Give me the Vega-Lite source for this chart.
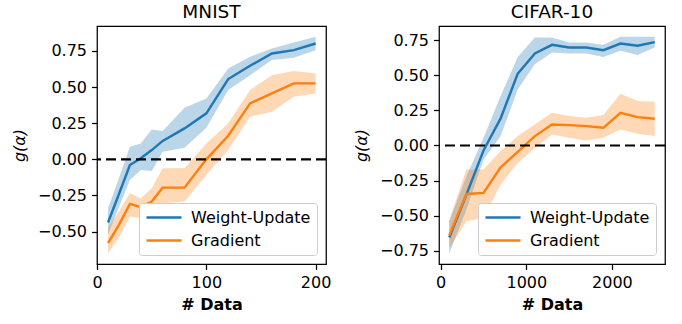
{
  "$schema": "https://vega.github.io/schema/vega-lite/v6.json",
  "padding": {"left": 10, "top": 1, "right": 5, "bottom": 5},
  "config": {
    "font": "DejaVu Sans",
    "view": {"stroke": "black", "strokeWidth": 1.25},
    "axis": {"grid": false, "domain": false, "tickColor": "black", "tickSize": 5.5, "tickWidth": 1.25, "tickCount": 20, "labelFontSize": 16, "labelColor": "black", "labelPadding": 5, "labelFlush": false, "labelOverlap": false, "titleFontSize": 16, "titleColor": "black"},
    "axisX": {"titleFontWeight": "bold", "titlePadding": 6},
    "axisY": {"titleFontWeight": "normal", "titleFontStyle": "italic", "titlePadding": 10},
    "title": {"fontSize": 18.5, "fontWeight": "normal", "color": "black", "offset": 5, "anchor": "middle"},
    "legend": {"orient": "none", "title": null, "symbolType": "M-1,0H4", "symbolSize": 196, "symbolStrokeWidth": 2.4, "labelFontSize": 16, "labelColor": "black", "labelOffset": 29, "rowPadding": 6, "padding": 6, "fillColor": "white", "strokeColor": "#cccccc", "cornerRadius": 3}
  },
  "data": {"values": [
    {"d": "MNIST", "method": "Weight-Update", "n": 10, "mean": -0.437, "lo": -0.52, "hi": -0.34},
    {"d": "MNIST", "method": "Weight-Update", "n": 20, "mean": -0.24, "lo": -0.33, "hi": -0.13},
    {"d": "MNIST", "method": "Weight-Update", "n": 30, "mean": -0.039, "lo": -0.143, "hi": 0.087},
    {"d": "MNIST", "method": "Weight-Update", "n": 40, "mean": 0.007, "lo": -0.074, "hi": 0.11},
    {"d": "MNIST", "method": "Weight-Update", "n": 50, "mean": 0.064, "lo": -0.08, "hi": 0.207},
    {"d": "MNIST", "method": "Weight-Update", "n": 60, "mean": 0.127, "lo": 0.053, "hi": 0.196},
    {"d": "MNIST", "method": "Weight-Update", "n": 80, "mean": 0.214, "lo": 0.08, "hi": 0.357},
    {"d": "MNIST", "method": "Weight-Update", "n": 100, "mean": 0.318, "lo": 0.219, "hi": 0.421},
    {"d": "MNIST", "method": "Weight-Update", "n": 120, "mean": 0.555, "lo": 0.479, "hi": 0.628},
    {"d": "MNIST", "method": "Weight-Update", "n": 140, "mean": 0.647, "lo": 0.582, "hi": 0.709},
    {"d": "MNIST", "method": "Weight-Update", "n": 160, "mean": 0.732, "lo": 0.686, "hi": 0.767},
    {"d": "MNIST", "method": "Weight-Update", "n": 180, "mean": 0.755, "lo": 0.702, "hi": 0.808},
    {"d": "MNIST", "method": "Weight-Update", "n": 200, "mean": 0.801, "lo": 0.755, "hi": 0.847},
    {"d": "MNIST", "method": "Gradient", "n": 10, "mean": -0.58, "lo": -0.649, "hi": -0.477},
    {"d": "MNIST", "method": "Gradient", "n": 20, "mean": -0.453, "lo": -0.54, "hi": -0.36},
    {"d": "MNIST", "method": "Gradient", "n": 30, "mean": -0.308, "lo": -0.396, "hi": -0.235},
    {"d": "MNIST", "method": "Gradient", "n": 40, "mean": -0.331, "lo": -0.407, "hi": -0.27},
    {"d": "MNIST", "method": "Gradient", "n": 50, "mean": -0.292, "lo": -0.373, "hi": -0.2},
    {"d": "MNIST", "method": "Gradient", "n": 60, "mean": -0.196, "lo": -0.304, "hi": -0.062},
    {"d": "MNIST", "method": "Gradient", "n": 80, "mean": -0.196, "lo": -0.292, "hi": -0.062},
    {"d": "MNIST", "method": "Gradient", "n": 100, "mean": 0.0, "lo": -0.108, "hi": 0.11},
    {"d": "MNIST", "method": "Gradient", "n": 120, "mean": 0.163, "lo": 0.064, "hi": 0.249},
    {"d": "MNIST", "method": "Gradient", "n": 140, "mean": 0.387, "lo": 0.295, "hi": 0.479},
    {"d": "MNIST", "method": "Gradient", "n": 160, "mean": 0.456, "lo": 0.329, "hi": 0.582},
    {"d": "MNIST", "method": "Gradient", "n": 180, "mean": 0.525, "lo": 0.433, "hi": 0.61},
    {"d": "MNIST", "method": "Gradient", "n": 200, "mean": 0.525, "lo": 0.456, "hi": 0.594},
    {"d": "CIFAR-10", "method": "Weight-Update", "n": 100, "mean": -0.655, "lo": -0.767, "hi": -0.54},
    {"d": "CIFAR-10", "method": "Weight-Update", "n": 300, "mean": -0.35, "lo": -0.457, "hi": -0.219},
    {"d": "CIFAR-10", "method": "Weight-Update", "n": 500, "mean": -0.036, "lo": -0.1, "hi": 0.055},
    {"d": "CIFAR-10", "method": "Weight-Update", "n": 700, "mean": 0.193, "lo": 0.067, "hi": 0.352},
    {"d": "CIFAR-10", "method": "Weight-Update", "n": 900, "mean": 0.512, "lo": 0.4, "hi": 0.631},
    {"d": "CIFAR-10", "method": "Weight-Update", "n": 1100, "mean": 0.655, "lo": 0.579, "hi": 0.769},
    {"d": "CIFAR-10", "method": "Weight-Update", "n": 1300, "mean": 0.717, "lo": 0.662, "hi": 0.769},
    {"d": "CIFAR-10", "method": "Weight-Update", "n": 1500, "mean": 0.698, "lo": 0.655, "hi": 0.733},
    {"d": "CIFAR-10", "method": "Weight-Update", "n": 1700, "mean": 0.698, "lo": 0.655, "hi": 0.733},
    {"d": "CIFAR-10", "method": "Weight-Update", "n": 1900, "mean": 0.679, "lo": 0.631, "hi": 0.717},
    {"d": "CIFAR-10", "method": "Weight-Update", "n": 2100, "mean": 0.726, "lo": 0.674, "hi": 0.774},
    {"d": "CIFAR-10", "method": "Weight-Update", "n": 2300, "mean": 0.71, "lo": 0.645, "hi": 0.774},
    {"d": "CIFAR-10", "method": "Weight-Update", "n": 2500, "mean": 0.736, "lo": 0.698, "hi": 0.774},
    {"d": "CIFAR-10", "method": "Gradient", "n": 100, "mean": -0.64, "lo": -0.731, "hi": -0.529},
    {"d": "CIFAR-10", "method": "Gradient", "n": 300, "mean": -0.345, "lo": -0.54, "hi": -0.171},
    {"d": "CIFAR-10", "method": "Gradient", "n": 500, "mean": -0.338, "lo": -0.517, "hi": -0.171},
    {"d": "CIFAR-10", "method": "Gradient", "n": 700, "mean": -0.155, "lo": -0.279, "hi": -0.04},
    {"d": "CIFAR-10", "method": "Gradient", "n": 900, "mean": -0.045, "lo": -0.124, "hi": 0.067},
    {"d": "CIFAR-10", "method": "Gradient", "n": 1100, "mean": 0.067, "lo": -0.017, "hi": 0.15},
    {"d": "CIFAR-10", "method": "Gradient", "n": 1300, "mean": 0.15, "lo": 0.079, "hi": 0.233},
    {"d": "CIFAR-10", "method": "Gradient", "n": 1500, "mean": 0.145, "lo": 0.055, "hi": 0.21},
    {"d": "CIFAR-10", "method": "Gradient", "n": 1700, "mean": 0.138, "lo": 0.036, "hi": 0.198},
    {"d": "CIFAR-10", "method": "Gradient", "n": 1900, "mean": 0.126, "lo": 0.055, "hi": 0.217},
    {"d": "CIFAR-10", "method": "Gradient", "n": 2100, "mean": 0.233, "lo": 0.114, "hi": 0.369},
    {"d": "CIFAR-10", "method": "Gradient", "n": 2300, "mean": 0.202, "lo": 0.083, "hi": 0.317},
    {"d": "CIFAR-10", "method": "Gradient", "n": 2500, "mean": 0.19, "lo": 0.067, "hi": 0.312}
  ]},
  "spacing": 20,
  "resolve": {"scale": {"color": "independent"}, "legend": {"color": "independent"}},
  "hconcat": [
    {
      "title": "MNIST",
      "width": 229,
      "height": 238,
      "transform": [{"filter": "datum.d == 'MNIST'"}],
      "layer": [
        {
          "transform": [{"filter": "datum.method == 'Weight-Update'"}],
          "mark": {"type": "area", "opacity": 0.3, "color": "#1f77b4"},
          "encoding": {
            "x": {"field": "n", "type": "quantitative", "scale": {"domain": [-0.1, 209.5], "nice": false, "zero": false}, "axis": {"values": [0, 100, 200], "format": "d", "title": "# Data"}},
            "y": {"field": "lo", "type": "quantitative", "scale": {"domain": [-0.724, 0.922], "nice": false, "zero": false}, "axis": {"values": [-0.5, -0.25, 0, 0.25, 0.5, 0.75], "format": ".2f", "title": "g(α)"}},
            "y2": {"field": "hi"}
          }
        },
        {
          "transform": [{"filter": "datum.method == 'Gradient'"}],
          "mark": {"type": "area", "opacity": 0.3, "color": "#ff7f0e"},
          "encoding": {
            "x": {"field": "n", "type": "quantitative"},
            "y": {"field": "lo", "type": "quantitative"},
            "y2": {"field": "hi"}
          }
        },
        {
          "mark": {"type": "line", "strokeWidth": 2.4},
          "encoding": {
            "x": {"field": "n", "type": "quantitative"},
            "y": {"field": "mean", "type": "quantitative"},
            "color": {"field": "method", "type": "nominal", "scale": {"domain": ["Weight-Update", "Gradient"], "range": ["#1f77b4", "#ff7f0e"]}, "legend": {"legendX": 42, "legendY": 177}}
          }
        },
        {
          "data": {"values": [{}]},
          "mark": {"type": "rule", "strokeDash": [10, 5], "strokeWidth": 2.2, "color": "black"},
          "encoding": {"y": {"datum": 0}}
        }
      ]
    },
    {
      "title": "CIFAR-10",
      "width": 226,
      "height": 238,
      "transform": [{"filter": "datum.d == 'CIFAR-10'"}],
      "layer": [
        {
          "transform": [{"filter": "datum.method == 'Weight-Update'"}],
          "mark": {"type": "area", "opacity": 0.3, "color": "#1f77b4"},
          "encoding": {
            "x": {"field": "n", "type": "quantitative", "scale": {"domain": [-20, 2620], "nice": false, "zero": false}, "axis": {"values": [0, 1000, 2000], "format": "d", "title": "# Data"}},
            "y": {"field": "lo", "type": "quantitative", "scale": {"domain": [-0.844, 0.851], "nice": false, "zero": false}, "axis": {"values": [-0.75, -0.5, -0.25, 0, 0.25, 0.5, 0.75], "format": ".2f", "title": "g(α)"}},
            "y2": {"field": "hi"}
          }
        },
        {
          "transform": [{"filter": "datum.method == 'Gradient'"}],
          "mark": {"type": "area", "opacity": 0.3, "color": "#ff7f0e"},
          "encoding": {
            "x": {"field": "n", "type": "quantitative"},
            "y": {"field": "lo", "type": "quantitative"},
            "y2": {"field": "hi"}
          }
        },
        {
          "mark": {"type": "line", "strokeWidth": 2.4},
          "encoding": {
            "x": {"field": "n", "type": "quantitative"},
            "y": {"field": "mean", "type": "quantitative"},
            "color": {"field": "method", "type": "nominal", "scale": {"domain": ["Weight-Update", "Gradient"], "range": ["#1f77b4", "#ff7f0e"]}, "legend": {"legendX": 39, "legendY": 177}}
          }
        },
        {
          "data": {"values": [{}]},
          "mark": {"type": "rule", "strokeDash": [10, 5], "strokeWidth": 2.2, "color": "black"},
          "encoding": {"y": {"datum": 0}}
        }
      ]
    }
  ]
}
